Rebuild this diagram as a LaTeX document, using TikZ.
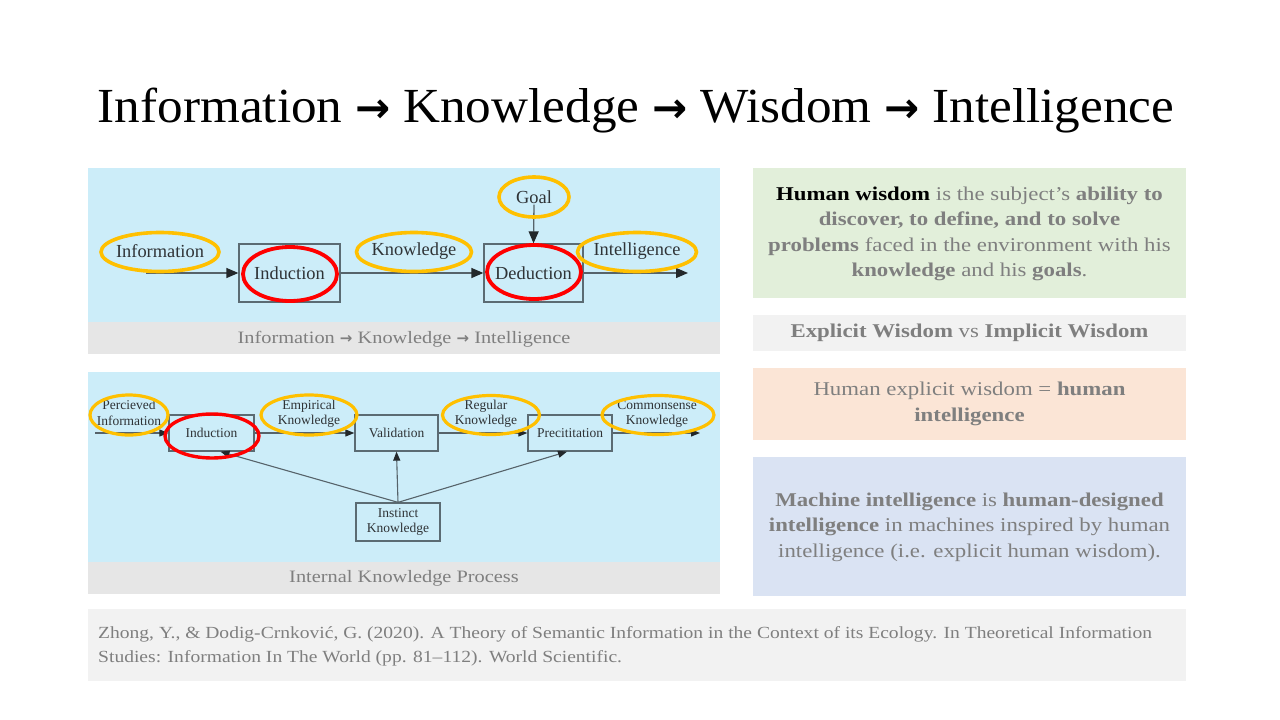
\documentclass[tikz,border=0pt]{standalone}
\usepackage{fontspec}
\setmainfont{Liberation Serif}
\newfontfamily\titlefont[FakeStretch=1.045]{Liberation Serif}
\newfontfamily\widefont[FakeStretch=1.17]{Liberation Serif}
\newfontfamily\reffont[FakeStretch=1.15]{Liberation Serif}
\newfontfamily\arrowfont{DejaVu Sans}
\newcommand{\heavyarrow}{{\arrowfont\bfseries →}}
\usetikzlibrary{shapes.geometric,arrows.meta}

\definecolor{panelblue}{HTML}{CCEDF9}
\definecolor{capgray}{HTML}{E6E6E6}
\definecolor{softgray}{HTML}{F2F2F2}
\definecolor{sagegreen}{HTML}{E2EFDA}
\definecolor{peach}{HTML}{FBE5D6}
\definecolor{paleblue}{HTML}{DAE3F3}
\definecolor{gold}{HTML}{FFC000}
\definecolor{ringred}{HTML}{FF0000}
\definecolor{boxline}{HTML}{5B6B73}
\definecolor{linegray}{HTML}{56636A}
\definecolor{tipdark}{HTML}{23282B}
\definecolor{labeldark}{HTML}{2F3336}
\definecolor{bodygray}{HTML}{7F7F7F}

\tikzset{
  panel/.style={fill=panelblue, draw=none},
  capbar/.style={fill=capgray, draw=none},
  card/.style={draw=none, inner sep=0pt},
  procbox/.style={draw=boxline, line width=1.3pt, inner sep=0pt, text=labeldark},
  biglabel/.style={text=labeldark, inner sep=1pt, font=\fontsize{18.4}{20}\selectfont},
  smalllabel/.style={text=labeldark, inner sep=1pt, align=center, font=\fontsize{13.5}{15.5}\selectfont},
  goldring/.style={ellipse, draw=gold, line width=3.6pt, inner sep=0pt},
  redring/.style={ellipse, draw=ringred, line width=3.8pt, inner sep=0pt},
  flow/.style={draw=linegray, line width=1.3pt, -{Triangle[length=12pt,width=10pt,color=tipdark]}},
  sflow/.style={draw=linegray, line width=1.1pt, -{Triangle[length=9pt,width=7pt,color=tipdark]}},
  caption/.style={text=bodygray, font=\widefont\fontsize{17.4}{20}\selectfont},
  cardtext/.style={text=bodygray, align=center, font=\widefont\fontsize{19.5}{25.5}\selectfont},
}

\begin{document}
\begin{tikzpicture}[x=1pt, y=-1pt]
\useasboundingbox (0,0) rectangle (1280,720);
\fill[white] (0,0) rectangle (1280,720);

% title
\node[anchor=base, font=\titlefont\fontsize{49}{56}\selectfont] (title) at (636,122)
  {Information {\fontsize{42}{42}\selectfont\heavyarrow} Knowledge {\fontsize{42}{42}\selectfont\heavyarrow} Wisdom {\fontsize{42}{42}\selectfont\heavyarrow} Intelligence};

% ---------- upper panel: information to intelligence ----------
\node[panel, minimum width=632pt, minimum height=154pt, inner sep=0pt] (upanel) at (404,245) {};
\node[capbar, minimum width=632pt, minimum height=32pt, inner sep=0pt] (ucap) at (404,338) {};
\node[caption] (ucaptext) at (404,339) {Information {\fontsize{15}{15}\selectfont\heavyarrow} Knowledge {\fontsize{15}{15}\selectfont\heavyarrow} Intelligence};

\node[procbox, minimum width=101pt, minimum height=58pt, font=\fontsize{18.4}{20}\selectfont] (induc) at (289.5,273) {Induction};
\node[procbox, minimum width=99pt, minimum height=58pt, font=\fontsize{18.4}{20}\selectfont] (deduc) at (533.5,273) {Deduction};

\node[biglabel] (infotxt) at (160,251) {Information};
\node[biglabel] (knowtxt) at (414,251) {Knowledge};
\node[biglabel] (goaltxt) at (534,197) {Goal};
\node[biglabel] (inteltxt) at (637,251) {Intelligence};

\coordinate (infostart) at (146,273);
\coordinate (intelend) at (688,273);

\draw[flow] (infostart) -- (induc.west);
\draw[flow] (induc.east) -- (deduc.west);
\draw[flow] (goaltxt.south) -- (deduc.north);
\draw[flow] (deduc.east) -- (intelend);

\node[goldring, minimum width=118pt, minimum height=39pt] (inforing) at (160,252) {};
\node[goldring, minimum width=115pt, minimum height=39pt] (knowring) at (414,252) {};
\node[goldring, minimum width=70pt, minimum height=40pt] (goalring) at (534,197) {};
\node[goldring, minimum width=119pt, minimum height=39pt] (intelring) at (637,252) {};
\node[redring, minimum width=94pt, minimum height=54pt] (inducring) at (290,274) {};
\node[redring, minimum width=94pt, minimum height=54pt] (deducring) at (534,272) {};

% ---------- lower panel: internal knowledge process ----------
\node[panel, minimum width=632pt, minimum height=190pt, inner sep=0pt] (lpanel) at (404,467) {};
\node[capbar, minimum width=632pt, minimum height=32pt, inner sep=0pt] (lcap) at (404,578) {};
\node[caption] (lcaptext) at (404,578) {Internal Knowledge Process};

\node[procbox, minimum width=85pt, minimum height=36pt, font=\fontsize{13.5}{15}\selectfont] (induc2) at (211.5,433) {Induction};
\node[procbox, minimum width=83pt, minimum height=36pt, font=\fontsize{13.5}{15}\selectfont] (valid) at (396.5,433) {Validation};
\node[procbox, minimum width=84pt, minimum height=36pt, font=\fontsize{13.5}{15}\selectfont] (precit) at (570,433) {Precititation};
\node[procbox, minimum width=84pt, minimum height=38pt, align=center, font=\fontsize{13.5}{15.5}\selectfont] (instinct) at (398,522) {Instinct\\Knowledge};

\node[smalllabel] (perctxt) at (129,413) {Percieved\\Information};
\node[smalllabel] (empirtxt) at (309,414) {Empirical\\Knowledge};
\node[smalllabel] (regtxt) at (486,414) {Regular\\Knowledge};
\node[smalllabel] (commtxt) at (657,414) {Commonsense\\Knowledge};

\coordinate (percstart) at (95,433);
\coordinate (commend) at (700,433);

\draw[sflow] (percstart) -- (induc2.west);
\draw[sflow] (induc2.east) -- (valid.west);
\draw[sflow] (valid.east) -- (precit.west);
\draw[sflow] (precit.east) -- (commend);
\draw[sflow] (instinct.north) -- (valid.south);
\draw[sflow] (instinct.north) -- ([xshift=9pt]induc2.south);
\draw[sflow] (instinct.north) -- ([xshift=-3pt]precit.south);

\node[goldring, minimum width=78pt, minimum height=40pt, line width=3.2pt] (percring) at (129,415) {};
\node[goldring, minimum width=96pt, minimum height=40pt, line width=3.2pt] (empirring) at (309,415) {};
\node[goldring, minimum width=97pt, minimum height=39pt, line width=3.2pt] (regring) at (491,415) {};
\node[goldring, minimum width=112pt, minimum height=39pt, line width=3.2pt] (commring) at (658,415) {};
\node[redring, minimum width=94pt, minimum height=44pt, line width=3.4pt] (induc2ring) at (212,436) {};

% ---------- right column ----------
\node[card, fill=sagegreen, minimum width=433pt, minimum height=130pt] (wisdomcard) at (969.5,233) {};
\node[cardtext] (wisdomtext) at (969.5,234)
  {\textcolor{black}{\textbf{Human wisdom}} is the subject’s \textbf{ability to}\\
   \textbf{discover, to define, and to solve}\\
   \textbf{problems} faced in the environment with his\\
   \textbf{knowledge} and his \textbf{goals}.};

\node[card, fill=softgray, minimum width=433pt, minimum height=36pt] (kindcard) at (969.5,333) {};
\node[cardtext] (kindtext) at (969.5,333)
  {\textbf{Explicit Wisdom} vs \textbf{Implicit Wisdom}};

\node[card, fill=peach, minimum width=433pt, minimum height=72pt] (explcard) at (969.5,404) {};
\node[cardtext] (expltext) at (969.5,404)
  {Human explicit wisdom = \textbf{human}\\ \textbf{intelligence}};

\node[card, fill=paleblue, minimum width=433pt, minimum height=139pt] (machcard) at (969.5,526.5) {};
\node[cardtext] (machtext) at (969.5,527)
  {\textbf{Machine intelligence} is \textbf{human-designed}\\
   \textbf{intelligence} in machines inspired by human\\
   intelligence (i.e. explicit human wisdom).};

% ---------- reference ----------
\node[card, fill=softgray, minimum width=1098pt, minimum height=72pt] (refcard) at (637,645) {};
\node[text=bodygray, align=left, anchor=west, inner sep=0pt, font=\reffont\fontsize{17}{24}\selectfont] (reftext) at (98,646)
  {Zhong, Y., \& Dodig-Crnković, G. (2020). A Theory of Semantic Information in the Context of its Ecology. In Theoretical Information\\
   Studies: Information In The World (pp. 81–112). World Scientific.};

\end{tikzpicture}
\end{document}
